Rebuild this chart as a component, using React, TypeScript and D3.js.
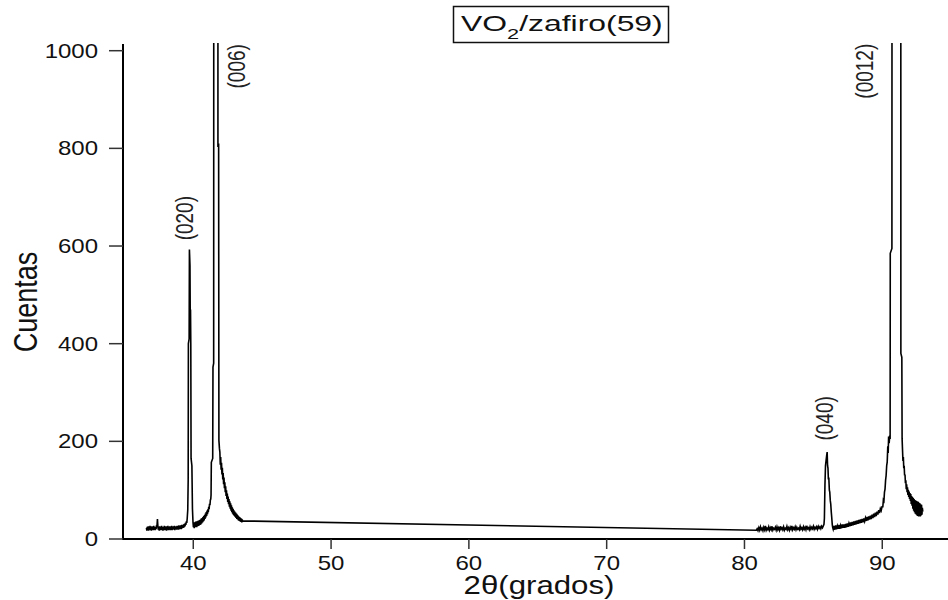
import React from "react";
import * as d3 from "d3";

// X-ray diffraction scan of a VO2 film on sapphire (2θ in degrees, counts)
const scanStart: [number, number][] = [
  [36.6, 23], [36.63, 17], [36.66, 25], [36.7, 18], [36.73, 26], [36.76, 17], [36.8, 24], [36.83, 19],
  [36.86, 27], [36.9, 18], [36.93, 25], [36.96, 17], [37.0, 26], [37.03, 19], [37.06, 24], [37.1, 18],
  [37.13, 27], [37.16, 19], [37.2, 25], [37.23, 18], [37.26, 24], [37.3, 20], [37.33, 28], [37.36, 24],
  [37.4, 41], [37.43, 27], [37.46, 19], [37.5, 25], [37.53, 17], [37.56, 26], [37.6, 18], [37.63, 24],
  [37.66, 19], [37.7, 27], [37.73, 18], [37.76, 25], [37.8, 17], [37.83, 24], [37.86, 20], [37.9, 27],
  [37.93, 18], [37.96, 25], [38.0, 19], [38.03, 26], [38.06, 17], [38.1, 25], [38.13, 19], [38.16, 27],
  [38.2, 18], [38.23, 24], [38.26, 20], [38.3, 26], [38.33, 18], [38.36, 25], [38.4, 19], [38.43, 27],
  [38.46, 18], [38.5, 24], [38.53, 20], [38.56, 26], [38.6, 19], [38.63, 27], [38.66, 18], [38.7, 25],
  [38.73, 20], [38.76, 26], [38.8, 19], [38.83, 27], [38.86, 20], [38.9, 26], [38.93, 19], [38.96, 28],
  [39.0, 20], [39.03, 27], [39.06, 21], [39.1, 28], [39.13, 20], [39.16, 29], [39.2, 22], [39.23, 28],
  [39.26, 23], [39.3, 30], [39.33, 24], [39.36, 31], [39.4, 26], [39.43, 33], [39.46, 29], [39.5, 36],
  [39.53, 33], [39.56, 42],
];

const peak020: [number, number][] = [
  [39.6, 60], [39.63, 120], [39.645, 400], [39.7, 410], [39.72, 593], [39.76, 560], [39.78, 455],
  [39.8, 470], [39.82, 400], [39.84, 165], [39.9, 150], [39.94, 62], [39.98, 34],
];

const between020and006: [number, number][] = [
  [40.01, 24], [40.04, 34], [40.07, 22], [40.1, 33], [40.13, 24], [40.16, 35], [40.19, 25], [40.22, 36],
  [40.25, 24], [40.28, 35], [40.31, 26], [40.34, 37], [40.37, 27], [40.4, 38], [40.43, 28], [40.46, 39],
  [40.49, 29], [40.52, 40], [40.55, 30], [40.58, 42], [40.61, 32], [40.64, 43], [40.67, 34], [40.7, 45],
  [40.73, 36], [40.76, 47], [40.79, 38], [40.82, 49], [40.85, 41], [40.88, 52], [40.91, 44], [40.94, 55],
  [40.97, 47], [41.0, 58], [41.03, 51], [41.06, 61], [41.09, 55], [41.12, 66], [41.15, 61], [41.18, 72],
  [41.21, 69], [41.24, 80], [41.27, 82],
];

const peak006: [number, number][] = [
  [41.29, 90], [41.31, 157], [41.41, 165], [41.43, 352], [41.48, 360], [41.5, 3000], [41.78, 3000],
  [41.79, 803], [41.84, 810], [41.86, 202], [41.9, 185],
];

const tail006: [number, number][] = [
  [41.93, 178], [41.96, 152], [41.99, 168], [42.02, 142], [42.05, 156], [42.08, 132], [42.11, 146],
  [42.14, 122], [42.17, 135], [42.2, 112], [42.23, 126], [42.26, 104], [42.29, 116], [42.32, 96],
  [42.35, 108], [42.38, 88], [42.41, 100], [42.44, 82], [42.47, 93], [42.5, 76], [42.53, 87], [42.56, 71],
  [42.59, 82], [42.62, 66], [42.65, 77], [42.68, 62], [42.71, 73], [42.74, 58], [42.77, 69], [42.8, 55],
  [42.83, 65], [42.86, 52], [42.89, 62], [42.92, 49], [42.95, 59], [42.98, 47], [43.01, 56], [43.04, 45],
  [43.07, 54], [43.1, 43], [43.13, 52], [43.16, 41], [43.19, 50], [43.22, 40], [43.25, 48], [43.28, 38],
  [43.31, 46], [43.34, 37], [43.37, 45], [43.4, 36], [43.43, 43], [43.46, 35], [43.49, 42], [43.52, 34],
  [43.55, 40], [43.58, 37],
];

const scanHigh: [number, number][] = [
  [80.86, 18], [80.92, 21], [80.98, 17], [81.04, 23], [81.1, 18], [81.16, 25], [81.22, 19], [81.28, 22],
  [81.34, 17], [81.4, 24], [81.46, 19], [81.52, 27], [81.58, 18], [81.64, 22], [81.7, 19], [81.76, 25],
  [81.82, 18], [81.88, 23], [81.94, 19], [82.0, 26], [82.06, 18], [82.12, 22], [82.18, 20], [82.24, 24],
  [82.3, 18], [82.36, 25], [82.42, 19], [82.48, 23], [82.54, 18], [82.6, 26], [82.66, 20], [82.72, 23],
  [82.78, 19], [82.84, 25], [82.9, 18], [82.96, 22], [83.02, 20], [83.08, 26], [83.14, 19], [83.2, 23],
  [83.26, 18], [83.32, 24], [83.38, 20], [83.44, 27], [83.5, 19], [83.56, 23], [83.62, 20], [83.68, 25],
  [83.74, 19], [83.8, 24], [83.86, 20], [83.92, 22], [83.98, 19], [84.04, 26], [84.1, 20], [84.16, 23],
  [84.22, 19], [84.28, 25], [84.34, 20], [84.4, 24], [84.46, 19], [84.52, 27], [84.58, 21], [84.64, 23],
  [84.7, 19], [84.76, 25], [84.82, 20], [84.88, 24], [84.94, 21], [85.0, 26], [85.06, 20], [85.12, 24],
  [85.18, 21], [85.24, 25], [85.3, 20], [85.36, 26], [85.42, 22], [85.48, 25], [85.54, 21], [85.6, 26],
  [85.66, 23], [85.72, 27],
];

const peak040: [number, number][] = [
  [85.77, 30], [85.8, 42], [85.84, 110], [85.88, 150], [85.92, 160], [85.96, 170], [86.0, 178],
  [86.03, 150], [86.06, 145], [86.09, 122], [86.12, 126], [86.16, 100], [86.19, 96], [86.23, 78],
  [86.26, 72], [86.3, 55], [86.33, 45], [86.37, 30], [86.4, 24],
];

const between040and0012: [number, number][] = [
  [86.44, 20], [86.5, 27], [86.56, 19], [86.62, 28], [86.68, 20], [86.74, 27], [86.8, 21], [86.86, 29],
  [86.92, 21], [86.98, 28], [87.04, 22], [87.1, 30], [87.16, 23], [87.22, 30], [87.28, 23], [87.34, 31],
  [87.4, 24], [87.46, 32], [87.52, 25], [87.58, 32], [87.64, 26], [87.7, 34], [87.76, 27], [87.82, 35],
  [87.88, 28], [87.94, 36], [88.0, 29], [88.06, 37], [88.12, 30], [88.18, 38], [88.24, 31], [88.3, 39],
  [88.36, 32], [88.42, 40], [88.48, 33], [88.54, 41], [88.6, 34], [88.66, 42], [88.72, 36], [88.78, 43],
  [88.84, 37], [88.9, 45], [88.96, 38], [89.02, 46], [89.08, 40], [89.14, 48], [89.2, 41], [89.26, 50],
  [89.32, 43], [89.38, 52], [89.44, 45], [89.5, 54], [89.56, 47], [89.62, 56], [89.68, 50], [89.74, 59],
  [89.8, 53], [89.86, 62], [89.92, 58], [89.98, 66],
];

const peak0012: [number, number][] = [
  [90.04, 66], [90.08, 80], [90.12, 78], [90.16, 96], [90.2, 102], [90.24, 120], [90.28, 130],
  [90.32, 150], [90.36, 158], [90.4, 190], [90.43, 176], [90.46, 210], [90.5, 196], [90.54, 212],
  [90.57, 205], [90.58, 585], [90.7, 595], [90.74, 4000], [91.33, 4000], [91.35, 380], [91.42, 372],
  [91.44, 205],
];

const tail0012: [number, number][] = [
  [91.47, 182], [91.5, 160], [91.53, 168], [91.56, 145], [91.59, 150], [91.62, 130], [91.65, 132],
  [91.68, 114], [91.71, 120], [91.74, 102], [91.77, 112], [91.8, 96], [91.83, 106], [91.86, 90],
  [91.89, 101], [91.92, 86], [91.95, 97], [91.98, 82], [92.01, 94], [92.04, 78], [92.07, 92], [92.1, 72],
  [92.13, 88], [92.16, 68], [92.19, 86], [92.22, 62], [92.25, 84], [92.28, 58], [92.31, 82], [92.34, 55],
  [92.37, 80], [92.4, 52], [92.43, 79], [92.46, 50], [92.49, 78], [92.52, 48], [92.55, 77], [92.58, 47],
  [92.61, 76], [92.64, 46], [92.67, 74], [92.7, 47], [92.73, 73], [92.76, 46], [92.79, 71], [92.82, 48],
  [92.85, 70], [92.88, 50], [92.91, 64], [92.94, 56],
];

const xTicks = [40, 50, 60, 70, 80, 90];
const yTicks = [0, 200, 400, 600, 800, 1000];

// Miller-index annotations: [label, 2θ of label baseline, counts at label centre]
const reflectionLabels: [string, number, number][] = [
  ["(020)", 39.96, 657],
  ["(006)", 43.75, 968],
  ["(040)", 86.4, 247],
  ["(0012)", 89.3, 958],
];

const FONT = "'Liberation Sans', Arial, Helvetica, sans-serif";

export default function App() {
  const width = 948;
  const height = 600;
  const left = 123;
  const right = 948;
  const top = 43;
  const bottom = 539;

  const x = d3.scaleLinear().domain([34.9, 94.77]).range([left, right]);
  const y = d3.scaleLinear().domain([0, 1000]).range([bottom, 50.7]);

  const scan = [
    ...scanStart,
    ...peak020,
    ...between020and006,
    ...peak006,
    ...tail006,
    ...scanHigh,
    ...peak040,
    ...between040and0012,
    ...peak0012,
    ...tail0012,
  ];

  const line = d3
    .line<[number, number]>()
    .x((d) => x(d[0]))
    .y((d) => y(d[1]));

  return (
    <svg
      width={width}
      height={height}
      style={{ position: "absolute", left: 0, top: 0, background: "#fff" }}
      fontFamily={FONT}
    >
      <defs>
        <clipPath id="plot-area">
          <rect x={left} y={top} width={right - left} height={bottom - top} />
        </clipPath>
      </defs>

      {/* title box */}
      <rect x={453.5} y={6.5} width={215} height={36} fill="none" stroke="#111" strokeWidth={1.5} />
      <text transform="translate(461,31) scale(1.45,1)" fontSize={22} fill="#111">
        VO
        <tspan fontSize={15} dy={8}>2</tspan>
        <tspan dy={-8}>/zafiro(59)</tspan>
      </text>

      {/* diffraction pattern */}
      <path
        d={line(scan) ?? ""}
        fill="none"
        stroke="#000"
        strokeWidth={1.6}
        strokeLinejoin="miter"
        clipPath="url(#plot-area)"
      />

      {/* axes */}
      <line x1={left} x2={left} y1={44} y2={bottom + 1} stroke="#000" strokeWidth={2} />
      <line x1={left - 1} x2={right} y1={bottom} y2={bottom} stroke="#000" strokeWidth={2} />

      {yTicks.map((t) => (
        <g key={`y${t}`}>
          <line x1={left - 14} x2={left} y1={y(t)} y2={y(t)} stroke="#333" strokeWidth={1.5} />
          <text
            transform={`translate(98,${y(t) + 7}) scale(1.2,1)`}
            textAnchor="end"
            fontSize={20}
            fill="#111"
          >
            {t}
          </text>
        </g>
      ))}

      {xTicks.map((t) => (
        <g key={`x${t}`}>
          <line x1={x(t)} x2={x(t)} y1={bottom} y2={bottom + 10} stroke="#333" strokeWidth={1.5} />
          <text
            transform={`translate(${x(t)},570) scale(1.2,1)`}
            textAnchor="middle"
            fontSize={20}
            fill="#111"
          >
            {t}
          </text>
        </g>
      ))}

      {/* axis titles */}
      <text
        transform="translate(539,594) scale(1.2,1)"
        textAnchor="middle"
        fontSize={26}
        fill="#111"
      >
        2θ(grados)
      </text>
      <text
        transform="translate(36.5,302) scale(1.25,1) rotate(-90)"
        textAnchor="middle"
        fontSize={27}
        fill="#111"
      >
        Cuentas
      </text>

      {/* reflection labels */}
      {reflectionLabels.map(([label, tt, c]) => (
        <text
          key={label}
          transform={`translate(${x(tt)},${y(c)}) scale(1.25,1) rotate(-90)`}
          textAnchor="middle"
          fontSize={19}
          fill="#222"
        >
          {label}
        </text>
      ))}
    </svg>
  );
}
